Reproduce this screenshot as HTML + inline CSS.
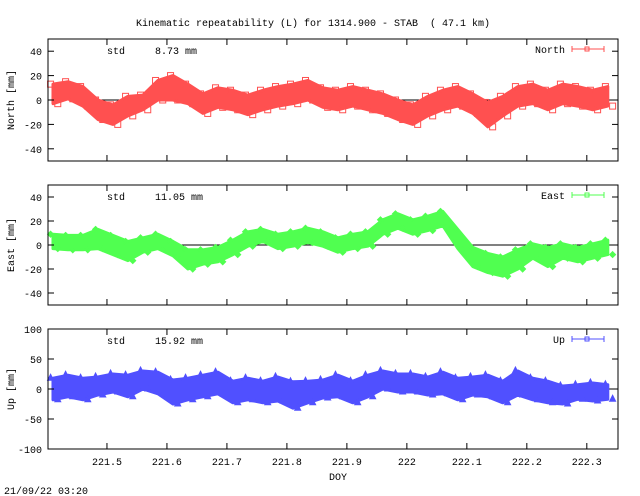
<!DOCTYPE html>
<html><head><meta charset="utf-8"><style>
body{margin:0;background:#fff}
svg{display:block;font-family:"Liberation Mono","DejaVu Sans Mono",monospace;font-size:10px}
</style></head><body>
<svg id="c" width="640" height="496" viewBox="0 0 640 496">
<text x="313" y="26" text-anchor="middle" style="white-space:pre">Kinematic repeatability (L) for 1314.900 - STAB  ( 47.1 km)</text>
<text x="338" y="480" text-anchor="middle">DOY</text>
<text x="4" y="494">21/09/22 03:20</text>
</svg>
<script>
const xTicks=[221.5,221.6,221.7,221.8,221.9,222,222.1,222.2,222.3];
const xTickLabels=["221.5","221.6","221.7","221.8","221.9","222","222.1","222.2","222.3"];
const startDay=221.41, stepDay=0.025;
const northCenter=[5,8,3,-8,-12,-5,-2,8,10,5,-3,2,0,-4,0,3,5,8,2,0,3,0,-3,-8,-12,-5,0,3,-3,-12,-5,3,5,0,5,3,0,3];
const northSpread=[8,7,8,8,8,8,6,8,10,8,8,8,8,8,8,8,8,8,8,8,8,8,8,8,8,8,8,8,8,10,8,8,8,8,8,8,8,8];
const eastCenter=[3,2,2,5,0,-5,0,3,-3,-12,-10,-8,-2,5,8,3,5,8,5,0,3,5,15,20,15,18,22,5,-10,-15,-18,-12,-5,-10,-5,-8,-5,-2];
const eastSpread=[6,6,6,8,8,8,6,6,6,8,6,6,6,6,5,6,6,6,6,6,6,6,6,6,6,6,6,8,8,8,8,8,6,8,6,6,6,6];
const upCenter=[0,5,0,5,10,5,15,10,-5,0,5,10,-5,0,-5,0,-10,-5,0,5,-5,5,15,10,10,5,10,0,5,5,-5,10,0,-5,-10,-5,-5,-5];
const upSpread=[18,18,18,15,15,18,15,18,20,18,18,18,18,18,18,20,22,18,15,18,18,18,15,15,15,15,18,18,15,18,18,20,18,18,15,12,15,12];
const panels=[
 {name:"north",label:"North [mm]",legend:"North",color:"#ff5050",top:39,bot:161,min:-50,max:50,ticks:[40,20,0,-20,-40],c:northCenter,s:northSpread,std:"8.73",mk:"sq"},
 {name:"east",label:"East [mm]",legend:"East",color:"#50ff50",top:185,bot:305,min:-50,max:50,ticks:[40,20,0,-20,-40],c:eastCenter,s:eastSpread,std:"11.05",mk:"dia"},
 {name:"up",label:"Up [mm]",legend:"Up",color:"#5050ff",top:329,bot:449,min:-100,max:100,ticks:[100,50,0,-50,-100],c:upCenter,s:upSpread,std:"15.92",mk:"tri"}
];
const svg=document.getElementById('c');const NS="http://www.w3.org/2000/svg";
const L=48,R=618,d0=221.4017,d1=222.352;
const X=d=>L+(d-d0)/(d1-d0)*(R-L);
function mk(t,a,p){const e=document.createElementNS(NS,t);for(const k in a)e.setAttribute(k,a[k]);(p||svg).appendChild(e);return e;}
panels.forEach(P=>{
 const Y=v=>P.bot-(v-P.min)/(P.max-P.min)*(P.bot-P.top);
 const z=mk('line',{x1:L,x2:R,y1:Y(0),y2:Y(0),stroke:'#000','stroke-width':1});
 
 
 const g=mk('g',{});
 
 
 const days=P.c.map((_,i)=>startDay+i*stepDay);
 let pts=[];
 days.forEach((d,i)=>pts.push(X(Math.max(d0,Math.min(d1,d)))+','+Y(P.c[i]+P.s[i])));
 for(let i=days.length-1;i>=0;i--)pts.push(X(Math.max(d0,Math.min(d1,days[i])))+','+Y(P.c[i]-P.s[i]));
 const band=mk('polygon',{points:pts.join(' '),fill:P.color,stroke:P.color,'stroke-width':3,'stroke-linejoin':'round'},g);
 
 
 days.forEach((d,i)=>{
  [P.c[i]+P.s[i],P.c[i]-P.s[i]].forEach((v,j)=>{
   const xx=X(Math.max(d0+0.003,Math.min(d1-0.003,d+(j?0.008:-0.004)))),yy=Y(v);
   let m;
   if(P.mk=="sq")m=mk('rect',{x:xx-3,y:yy-3,width:6,height:6,fill:'none',stroke:P.color},g);
   else if(P.mk=="dia")m=mk('polygon',{points:`${xx},${yy-3} ${xx+3},${yy} ${xx},${yy+3} ${xx-3},${yy}`,fill:P.color,stroke:P.color},g);
   else m=mk('polygon',{points:`${xx},${yy-4} ${xx+3},${yy+2} ${xx-3},${yy+2}`,fill:P.color,stroke:P.color},g);
   
   
  });
 });
 const f=mk('rect',{x:L,y:P.top,width:R-L,height:P.bot-P.top,fill:'none',stroke:'#000'});
 
 
 P.ticks.forEach(t=>{
  const y=Y(t);
  mk('line',{x1:L,x2:L+6,y1:y,y2:y,stroke:'#000'});mk('line',{x1:R-6,x2:R,y1:y,y2:y,stroke:'#000'});
  const tx=mk('text',{x:42,y:y+4,'text-anchor':'end'});tx.textContent=t;
  
  
 });
 xTicks.forEach(t=>{const x=X(t);mk('line',{x1:x,x2:x,y1:P.top,y2:P.top+6,stroke:'#000'});mk('line',{x1:x,x2:x,y1:P.bot-6,y2:P.bot,stroke:'#000'});});
 const yl=mk('text',{x:0,y:0,transform:`translate(14,${(P.top+P.bot)/2}) rotate(-90)`,'text-anchor':'middle'});yl.textContent=P.label;
 
 
 const st=mk('text',{x:107,y:P.top+15});st.textContent="std     "+P.std+" mm";st.style.whiteSpace='pre';
 
 
 const lg=mk('text',{x:565,y:P.top+14,'text-anchor':'end'});lg.textContent=P.legend;
 
 
 const ly=P.top+10;
 mk('line',{x1:572,x2:604,y1:ly,y2:ly,stroke:P.color});mk('line',{x1:572,x2:572,y1:ly-3,y2:ly+3,stroke:P.color});mk('line',{x1:604,x2:604,y1:ly-3,y2:ly+3,stroke:P.color});
 mk('rect',{x:585,y:ly-2,width:4,height:4,fill:'none',stroke:P.color});
});
xTicks.forEach((t,i)=>{const tx=mk('text',{x:X(t),y:465,'text-anchor':'middle'});tx.textContent=xTickLabels[i];
 
 });
</script>
</body></html>
